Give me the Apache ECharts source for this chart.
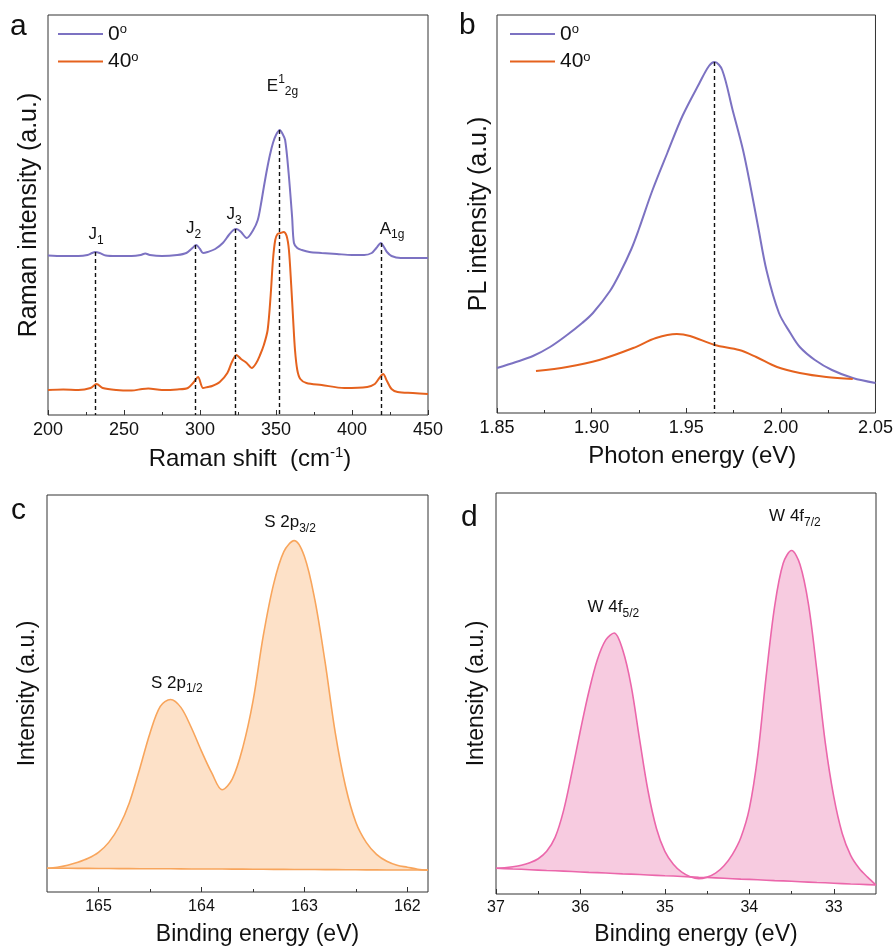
<!DOCTYPE html>
<html><head><meta charset="utf-8">
<script src="https://cdn.jsdelivr.net/npm/echarts@6/dist/echarts.min.js"></script>
<style>html,body{margin:0;padding:0;background:#fff}#c{width:896px;height:947px}</style>
</head><body><div id="c"></div>
<script>
// ---------- Panel a: Raman ----------
const ramanBlueX = [200,210,220,226,229,231,234,238,245,255,261,264,267,275,285,291,295,297.5,300,302,305,310,315,319,322,324,327,330.7,335,338,340,342,344,346,348,350,352.5,354,356,358.3,360.6,361.8,364,367,372,380,390,400,408,413,416,419,421,423,426,432,440,450];
const ramanBlueY = [159.5,159,159,160,162,163,162,159.5,159,159,160,161.5,160,159,160,162,167,170,166,162,163,166,172,180,185,186,183,177,185,195,210,228,245,260,272,280,285,282,275,242,198,172,167,165,163,162,161,160,160,162,167,172,168,163,159,157,157,157];
const ramanOrangeX = [200,210,220,228,232,236,245,255,262,266,275,285,292,296,298.7,302,305,308,313,318,321,324,327,330.7,334,337,339.5,342,344.5,346.5,348,349.5,351,353,355,357,358.5,360,361.3,362.5,364,366,370,380,395,410,415,418,420.5,423,426,430,440,450];
const ramanOrangeY = [25,25.5,25,27,31,27,25,24.5,26,26.5,25,25.5,27,33,38,27,28,29,33,42,53,60,56,52,47,52,60,70,85,120,155,175,181,182,183,179,165,130,95,65,45,36,32,30,27,28,31,37,41,34,26,23,22,21];
const ramanPeakX = [231,297,323,352.3,419];
const ramanPeakTop = [163,170,186,285,172];

// ---------- Panel b: PL ----------
const plBlueX = [1.850,1.860,1.869,1.878,1.887,1.895,1.9007,1.9097,1.915,1.921,1.925,1.932,1.940,1.948,1.957,1.962,1.965,1.969,1.9745,1.980,1.984,1.988,1.9925,1.999,2.005,2.010,2.018,2.027,2.038,2.050];
const plBlueY = [45,51,57,66,78,90,100,122,140,164,184,222,260,297,330,347,351,343,303,263,226,186,142,100,80,66,53,43,35,30];
const plOrangeX = [1.8706,1.887,1.904,1.922,1.934,1.945,1.952,1.965,1.978,1.987,1.998,2.010,2.024,2.038];
const plOrangeY = [42,46,53,65,75,79,77,68,63,56,46,40,36,34];
const plPeakX = 1.965;
const plPeakTop = 351;

// ---------- Panel c: XPS S 2p ----------
const xpsSX = [165.5,165.4,165.3,165.2,165.1,165.0,164.9,164.8,164.7,164.6,164.5,164.4,164.3,164.2,164.1,164.0,163.9,163.8,163.7,163.6,163.5,163.4,163.3,163.2,163.1,163.0,162.9,162.8,162.7,162.6,162.5,162.4,162.3,162.2,162.1,162.0,161.9,161.8];
const xpsSEnv = [24,25,27,30,34,40,50,66,90,124,160,187,194,186,166,142,120,103,114,145,192,258,310,343,354,338,295,232,160,106,70,50,38,31,27,25,23,22];
const xpsSBase = [24.0,23.9,23.9,23.8,23.8,23.7,23.7,23.6,23.6,23.5,23.5,23.4,23.4,23.3,23.2,23.2,23.1,23.1,23.0,23.0,22.9,22.9,22.8,22.8,22.7,22.6,22.6,22.5,22.5,22.4,22.4,22.3,22.3,22.2,22.2,22.1,22.1,22.0];

// ---------- Panel d: XPS W 4f ----------
const xpsWX = [37.0,36.9,36.8,36.7,36.6,36.5,36.4,36.3,36.2,36.1,36.0,35.9,35.8,35.7,35.6,35.5,35.4,35.3,35.2,35.1,35.0,34.9,34.8,34.7,34.6,34.5,34.4,34.3,34.2,34.1,34.0,33.9,33.8,33.7,33.6,33.5,33.4,33.3,33.2,33.1,33.0,32.9,32.8,32.7,32.6,32.5];
const xpsWEnv = [26,26.5,27.5,29,31.5,35.5,43,57,84,123,165,204,236,256,263,246,210,156,104,66,43,30,22,17.5,15.5,17,21,28.5,40,57,86,140,220,290,333,346,332,292,225,152,98,61,39,26,17,9];
const xpsWBase = [26.0,25.6,25.2,24.9,24.5,24.1,23.7,23.4,23.0,22.6,22.2,21.8,21.5,21.1,20.7,20.3,20.0,19.6,19.2,18.8,18.4,18.1,17.7,17.3,16.9,16.6,16.2,15.8,15.4,15.0,14.7,14.3,13.9,13.5,13.2,12.8,12.4,12.0,11.6,11.3,10.9,10.5,10.1,9.8,9.4,9.0];

const xTicksC = [165,164,163,162];
const xMinorC = [164.5,163.5,162.5];
const xTicksD = [37,36,35,34,33];
const xMinorD = [36.5,35.5,34.5,33.5];

const FONT = 'Liberation Sans, Arial, Helvetica, sans-serif';
const BLUE = '#7C72C2', ORANGE = '#E5621E';
const C_LINE = '#F8A55C', C_FILL = '#FDE1C8';
const D_LINE = '#EB67AB', D_FILL = '#F7CBE0';
const INK = '#111';
const SMOOTH = 0.33;

const zip = (xs, ys) => xs.map((x, i) => [x, ys[i]]);
// value first, x second (so that stacking acts on the value dimension)
const zipYX = (xs, ys) => xs.map((x, i) => [ys[i], x]);

const annRich = {
  m: {fontSize: 17, lineHeight: 24, verticalAlign: 'middle', color: INK, fontFamily: FONT},
  sub: {fontSize: 12, lineHeight: 24, verticalAlign: 'bottom', color: INK, fontFamily: FONT},
  sup: {fontSize: 12, lineHeight: 24, verticalAlign: 'top', color: INK, fontFamily: FONT}
};
function ann(coord, text) {
  return {coord: coord, symbol: 'circle', symbolSize: 0, itemStyle: {color: 'transparent'},
    label: {show: true, position: 'inside', formatter: text, rich: annRich}};
}
function dashLines(xs, tops) {
  return xs.map((x, i) => [{coord: [x, tops[i]]}, {coord: [x, 0]}]);
}
const markLineStyle = {silent: true, symbol: ['none','none'], label: {show: false},
  lineStyle: {color: INK, type: [4, 3], width: 1.4}, animation: false};

function xAxisBase(grid, extra) {
  return Object.assign({
    gridIndex: grid, type: 'value', position: 'bottom',
    axisLine: {show: false},
    axisTick: {show: true, inside: true, length: 5, lineStyle: {color: '#333', width: 1}},
    splitLine: {show: false},
    axisLabel: {fontSize: 18, color: INK, margin: 6, fontFamily: FONT},
    nameLocation: 'middle',
    nameTextStyle: {color: INK, fontFamily: FONT}
  }, extra);
}
function minorAxis(grid, min, max, values) {
  return {gridIndex: grid, type: 'value', position: 'bottom', min: min, max: max, inverse: true,
    axisLine: {show: false}, splitLine: {show: false},
    axisLabel: {show: false},
    axisTick: {show: true, inside: true, length: 3, customValues: values, lineStyle: {color: '#333'}}};
}
function yAxisBase(grid, max, name, size, gap) {
  return {gridIndex: grid, type: 'value', min: 0, max: max,
    axisLine: {show: false}, axisTick: {show: false}, axisLabel: {show: false}, splitLine: {show: false},
    name: name, nameLocation: 'middle', nameGap: gap,
    nameTextStyle: {fontSize: size, color: INK, fontFamily: FONT}};
}

const legendRich = {
  n: {fontSize: 21, lineHeight: 22, verticalAlign: 'middle', color: INK, fontFamily: FONT},
  s: {fontSize: 13, lineHeight: 22, verticalAlign: 'top', color: INK, fontFamily: FONT}
};
function legendAt(left) {
  return {left: left, top: 23, orient: 'vertical', padding: 0, itemGap: 6,
    itemWidth: 45, itemHeight: 2, icon: 'rect', selectedMode: false,
    data: ['0°', '40°'],
    formatter: name => '{n|' + name.replace('°', '') + '}{s|o}',
    textStyle: {rich: legendRich, padding: [0,0,0,0]}};
}

const lineCommon = {type: 'line', showSymbol: false, z: 3};

const chart = echarts.init(document.getElementById('c'), null, {renderer: 'canvas'});
const option = {
  animation: false,
  backgroundColor: '#fff',
  textStyle: {fontFamily: FONT},
  grid: [
    {left: 48, top: 15, width: 380, height: 400, show: true, borderColor: '#333', borderWidth: 1, backgroundColor: 'transparent'},
    {left: 497, top: 15, width: 379, height: 398, show: true, borderColor: '#333', borderWidth: 1, backgroundColor: 'transparent'},
    {left: 47, top: 495, width: 381, height: 400, show: true, borderColor: '#333', borderWidth: 1, backgroundColor: 'transparent'},
    {left: 496, top: 493, width: 380, height: 404, show: true, borderColor: '#333', borderWidth: 1, backgroundColor: 'transparent'}
  ],
  legend: [legendAt(58), legendAt(510)],
  xAxis: [
    xAxisBase(0, {min: 200, max: 450, interval: 50,
      minorTick: {show: true, splitNumber: 2, length: 3, lineStyle: {color: '#333'}},
      name: 'Raman shift  (cm{sup|-1})', nameGap: 30,
      nameTextStyle: {fontSize: 24, color: INK, fontFamily: FONT, lineHeight: 28, padding: [0,0,0,24],
        rich: {sup: {fontSize: 15, lineHeight: 28, verticalAlign: 'top', color: INK, fontFamily: FONT}}}}),
    xAxisBase(1, {min: 1.85, max: 2.05, interval: 0.05,
      minorTick: {show: true, splitNumber: 2, length: 3, lineStyle: {color: '#333'}},
      axisLabel: {fontSize: 18, color: INK, margin: 6, fontFamily: FONT, formatter: v => v.toFixed(2)},
      name: 'Photon energy (eV)', nameGap: 31,
      nameTextStyle: {fontSize: 24, color: INK, fontFamily: FONT, padding: [0,0,0,12]}}),
    xAxisBase(2, {min: 161.8, max: 165.5, inverse: true,
      axisLabel: {fontSize: 16, color: INK, margin: 7, fontFamily: FONT, customValues: xTicksC},
      axisTick: {show: true, inside: true, length: 5, customValues: xTicksC, lineStyle: {color: '#333'}},
      name: 'Binding energy (eV)', nameGap: 31,
      nameTextStyle: {fontSize: 23, color: INK, fontFamily: FONT, padding: [0,0,0,40]}}),
    minorAxis(2, 161.8, 165.5, xMinorC),
    xAxisBase(3, {min: 32.5, max: 37, inverse: true,
      axisLabel: {fontSize: 16, color: INK, margin: 6, fontFamily: FONT, customValues: xTicksD},
      axisTick: {show: true, inside: true, length: 5, customValues: xTicksD, lineStyle: {color: '#333'}},
      name: 'Binding energy (eV)', nameGap: 29,
      nameTextStyle: {fontSize: 23, color: INK, fontFamily: FONT, padding: [0,0,0,20]}}),
    minorAxis(3, 32.5, 37, xMinorD)
  ],
  yAxis: [
    yAxisBase(0, 400, 'Raman intensity (a.u.)', 25, 6),
    yAxisBase(1, 398, 'PL intensity (a.u.)', 25, 5),
    yAxisBase(2, 400, 'Intensity (a.u.)', 23, 8),
    yAxisBase(3, 404, 'Intensity (a.u.)', 23, 8)
  ],
  series: [
    Object.assign({}, lineCommon, {name: '0°', xAxisIndex: 0, yAxisIndex: 0, data: zip(ramanBlueX, ramanBlueY),
      smooth: 0.3, color: BLUE, lineStyle: {color: BLUE, width: 2},
      markLine: Object.assign({data: dashLines(ramanPeakX, ramanPeakTop)}, markLineStyle),
      markPoint: {silent: true, animation: false, data: [
        ann([231.6, 180.5], '{m|J}{sub|1}'),
        ann([295.7, 186.5], '{m|J}{sub|2}'),
        ann([322.4, 200.5], '{m|J}{sub|3}'),
        ann([354.3, 329], '{m|E}{sup|1}{sub|2g}'),
        ann([426.3, 186], '{m|A}{sub|1g}')
      ]}}),
    Object.assign({}, lineCommon, {name: '40°', xAxisIndex: 0, yAxisIndex: 0, data: zip(ramanOrangeX, ramanOrangeY),
      smooth: 0.3, color: ORANGE, lineStyle: {color: ORANGE, width: 2}}),
    Object.assign({}, lineCommon, {name: '0°', xAxisIndex: 1, yAxisIndex: 1, data: zip(plBlueX, plBlueY),
      smooth: SMOOTH, color: BLUE, lineStyle: {color: BLUE, width: 2},
      markLine: Object.assign({data: dashLines([plPeakX], [plPeakTop])}, markLineStyle)}),
    Object.assign({}, lineCommon, {name: '40°', xAxisIndex: 1, yAxisIndex: 1, data: zip(plOrangeX, plOrangeY),
      smooth: SMOOTH, color: ORANGE, lineStyle: {color: ORANGE, width: 2}}),
    Object.assign({}, lineCommon, {name: 'S base', xAxisIndex: 2, yAxisIndex: 2, data: zipYX(xpsSX, xpsSBase),
      encode: {x: 1, y: 0}, stack: 'S', stackStrategy: 'all', color: C_LINE, lineStyle: {color: C_LINE, width: 1.6}, z: 4}),
    Object.assign({}, lineCommon, {name: 'S 2p', xAxisIndex: 2, yAxisIndex: 2,
      data: zipYX(xpsSX, xpsSEnv.map((v, i) => v - xpsSBase[i])),
      encode: {x: 1, y: 0}, stack: 'S', stackStrategy: 'all', smooth: SMOOTH, color: C_LINE,
      lineStyle: {color: C_LINE, width: 1.6}, areaStyle: {color: C_FILL, opacity: 1}, z: 3,
      markPoint: {silent: true, animation: false, data: [
        ann([163.14, 372], '{m|S 2p}{sub|3/2}'),
        ann([164.24, 210.5], '{m|S 2p}{sub|1/2}')
      ]}}),
    Object.assign({}, lineCommon, {name: 'W base', xAxisIndex: 4, yAxisIndex: 3, data: zipYX(xpsWX, xpsWBase),
      encode: {x: 1, y: 0}, stack: 'W', stackStrategy: 'all', color: D_LINE, lineStyle: {color: D_LINE, width: 1.6}, z: 4}),
    Object.assign({}, lineCommon, {name: 'W 4f', xAxisIndex: 4, yAxisIndex: 3,
      data: zipYX(xpsWX, xpsWEnv.map((v, i) => v - xpsWBase[i])),
      encode: {x: 1, y: 0}, stack: 'W', stackStrategy: 'all', smooth: SMOOTH, color: D_LINE,
      lineStyle: {color: D_LINE, width: 1.6}, areaStyle: {color: D_FILL, opacity: 1}, z: 3,
      markPoint: {silent: true, animation: false, data: [
        ann([33.46, 380.5], '{m|W 4f}{sub|7/2}'),
        ann([35.61, 288.5], '{m|W 4f}{sub|5/2}')
      ]}})
  ],
  graphic: [
    {type: 'text', left: 10, top: 12, style: {text: 'a', font: '30px ' + FONT, fill: INK}},
    {type: 'text', left: 459, top: 11, style: {text: 'b', font: '30px ' + FONT, fill: INK}},
    {type: 'text', left: 11, top: 496, style: {text: 'c', font: '30px ' + FONT, fill: INK}},
    {type: 'text', left: 461, top: 503, style: {text: 'd', font: '30px ' + FONT, fill: INK}}
  ]
};
chart.setOption(option);
</script>
</body></html>
